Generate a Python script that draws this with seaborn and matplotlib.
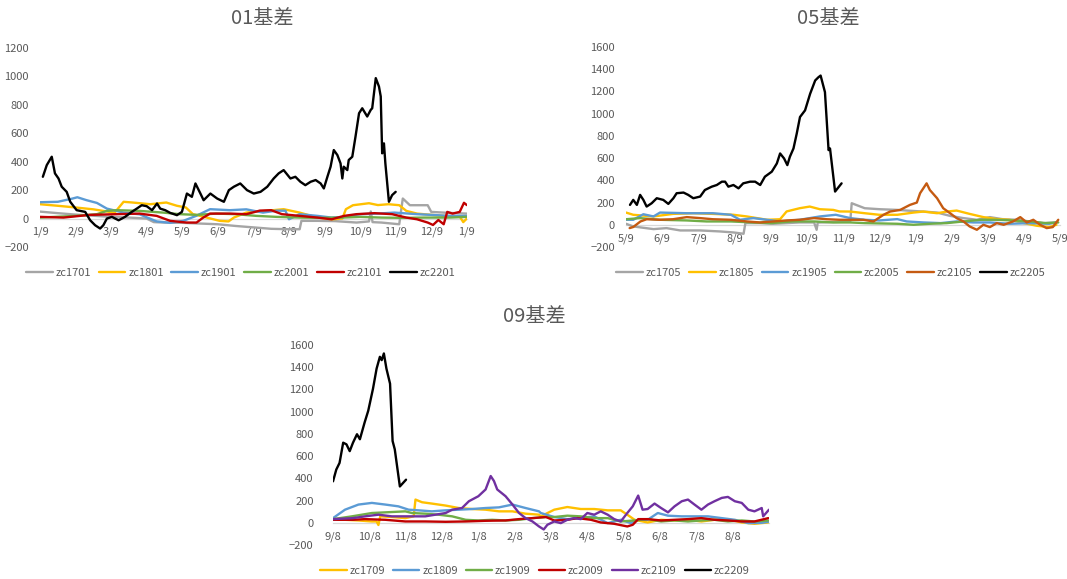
import numpy as np
import pandas as pd
import matplotlib.pyplot as plt
import seaborn as sns

sns.set_theme(style="white")
plt.rcParams['font.family'] = ['Noto Sans CJK SC', 'DejaVu Sans']
plt.rcParams['axes.unicode_minus'] = True

TEXT = '#595959'

# ---- 01基差 : (months after 1/9, basis) ----
zc1701 = [(0, 49), (0.5, 38), (1, 28), (1.5, 20), (2, 12), (2.5, 7), (3, 0), (3.2, -25), (3.5, -28),
          (4, -30), (4.5, -35), (5, -40), (5.5, -52), (6, -62), (6.5, -72), (7, -75), (7.3, -75),
          (7.35, -16), (7.8, -16), (8.3, -18), (8.9, -28), (9.25, -20), (9.3, 50), (9.35, -25),
          (9.6, -28), (10.1, -40), (10.2, 141), (10.4, 94), (10.9, 94), (11.0, 47), (11.5, 40), (12, 35)]
zc1801 = [(0, 101), (0.5, 90), (1, 78), (1.5, 65), (2, 45), (2.1, 42), (2.35, 118), (2.6, 113),
          (3.1, 101), (3.55, 113), (3.85, 90), (4.1, 78), (4.3, 31), (4.5, 19), (5.05, -16), (5.3, -20),
          (5.45, 7), (5.8, 42), (6.35, 54), (6.85, 66), (7.3, 42), (7.8, 7), (8.2, -5), (8.5, 0),
          (8.6, 66), (8.8, 94), (9.25, 108), (9.5, 95), (9.8, 101), (10.1, 94), (10.3, 54), (10.6, 35),
          (11.3, 20), (11.8, 15), (11.9, -25), (12, 0)]
zc1901 = [(0, 115), (0.5, 118), (0.9, 140), (1.05, 150), (1.3, 130), (1.6, 110), (1.88, 70), (2.35, 42),
          (2.8, 30), (3.28, -20), (3.66, -30), (4.03, -16), (4.4, 20), (4.78, 66), (5.34, 59), (5.8, 65),
          (6.27, 42), (6.65, 56), (6.9, 55), (7.0, -5), (7.3, 31), (7.8, 19), (8.2, 7), (8.55, 12),
          (9.0, 31), (9.5, 35), (9.96, 42), (10.2, 38), (10.6, 31), (11.0, 26), (11.5, 19), (12, 19)]
zc2001 = [(0, 7), (1, 19), (1.6, 31), (1.88, 54), (2.16, 59), (2.8, 54), (3.46, 42), (3.93, 31),
          (4.4, 26), (4.96, 35), (5.5, 31), (6.08, 19), (6.65, 12), (7.3, 7), (7.8, 5), (8.5, 7),
          (9.0, 12), (9.6, 7), (10.2, 5), (10.8, 7), (11.5, 7), (12, 12)]
zc2101 = [(0, 12), (0.66, 7), (1.4, 26), (2.16, 31), (2.8, 35), (3.28, 19), (3.66, -16), (4.12, -28),
          (4.4, -28), (4.59, 7), (4.78, 35), (5.34, 35), (5.8, 31), (6.18, 56), (6.5, 59), (6.8, 31),
          (7.3, 19), (7.8, 7), (8.2, -5), (8.55, 19), (8.9, 31), (9.4, 38), (9.9, 31), (10.3, 7),
          (10.6, -5), (10.9, -28), (11.05, -45), (11.2, -10), (11.35, -40), (11.45, 47), (11.6, 35),
          (11.8, 47), (11.92, 111), (12, 95)]
zc2201 = [(0.08, 294), (0.19, 376), (0.33, 435), (0.42, 318), (0.52, 282), (0.61, 224), (0.75, 188),
          (0.85, 118), (1.03, 59), (1.27, 47), (1.41, -12), (1.55, -47), (1.69, -70), (1.78, -47),
          (1.88, 0), (2.02, 12), (2.21, -12), (2.39, 12), (2.58, 47), (2.72, 70), (2.86, 94), (3.0, 87),
          (3.15, 59), (3.29, 106), (3.38, 70), (3.52, 59), (3.66, 40), (3.85, 24), (3.99, 47),
          (4.13, 176), (4.27, 153), (4.37, 247), (4.51, 176), (4.6, 129), (4.79, 176), (4.98, 141),
          (5.17, 118), (5.31, 200), (5.45, 224), (5.63, 247), (5.82, 200), (6.01, 176), (6.2, 188),
          (6.39, 224), (6.57, 282), (6.71, 318), (6.85, 341), (7.04, 282), (7.18, 294), (7.32, 259),
          (7.46, 235), (7.61, 259), (7.75, 271), (7.89, 247), (7.98, 212), (8.08, 294), (8.17, 365),
          (8.26, 482), (8.36, 447), (8.45, 388), (8.5, 282), (8.54, 365), (8.64, 341), (8.68, 412),
          (8.78, 435), (8.87, 576), (8.97, 741), (9.06, 776), (9.2, 718), (9.3, 765), (9.34, 776),
          (9.44, 988), (9.53, 929), (9.58, 859), (9.62, 459), (9.67, 529), (9.71, 388), (9.81, 118),
          (9.9, 165), (10.0, 188)]

# ---- 05基差 : (months after 5/9, basis) ----
zc1705 = [(0, 9), (0.2, -15), (0.76, -39), (1.12, -30), (1.5, -51), (2.05, -51), (2.6, -60), (2.97, -69),
          (3.25, -81), (3.3, 15), (3.7, 15), (4.07, 9), (4.44, 15), (4.8, 21), (5.2, 21), (5.27, -45),
          (5.3, 20), (5.8, 25), (6.2, 30), (6.24, 194), (6.6, 149), (7.02, 140), (7.5, 134), (7.76, 128),
          (8.22, 119), (8.6, 110), (8.96, 80), (9.33, 60), (9.7, 45), (10.06, 69), (10.4, 51), (10.8, 45),
          (11.17, 30), (11.54, 15), (11.9, 21)]
zc1805 = [(0, 110), (0.2, 90), (0.76, 75), (1.3, 98), (1.86, 104), (2.4, 98), (2.97, 90), (3.34, 75),
          (3.9, 45), (4.26, 50), (4.44, 120), (4.8, 149), (5.08, 164), (5.36, 140), (5.73, 134), (5.9, 120),
          (6.2, 119), (6.6, 104), (7.0, 90), (7.5, 90), (7.95, 110), (8.22, 119), (8.6, 104), (8.87, 119),
          (9.14, 128), (9.5, 98), (9.88, 69), (10.25, 51), (10.6, 45), (11.0, 15), (11.36, -9),
          (11.7, -21), (11.9, 0)]
zc1905 = [(0, 45), (0.2, 45), (0.48, 95), (0.76, 75), (0.94, 110), (1.68, 104), (2.4, 104), (2.9, 90),
          (3.15, 45), (3.52, 60), (3.9, 45), (4.26, 30), (4.8, 45), (5.36, 75), (5.8, 90), (6.2, 60),
          (6.6, 45), (7.0, 39), (7.5, 51), (7.76, 30), (8.22, 21), (8.7, 15), (9.14, 30), (9.6, 21),
          (10.06, 21), (10.6, 9), (11.17, 15), (11.7, 9), (11.9, 21)]
zc2005 = [(0, 50), (0.39, 60), (0.94, 45), (1.68, 39), (2.23, 30), (2.9, 30), (3.5, 21), (4.0, 15),
          (4.6, 30), (5.2, 30), (5.73, 21), (6.2, 21), (6.6, 15), (7.5, 9), (7.95, 0), (8.4, 9),
          (8.87, 15), (9.33, 30), (9.8, 45), (10.25, 45), (10.7, 39), (11.17, 30), (11.6, 15), (11.95, 21)]
zc2105 = [(0.1, -30), (0.2, -20), (0.4, 30), (0.57, 50), (0.94, 45), (1.3, 50), (1.68, 69), (2.05, 60),
          (2.4, 50), (2.9, 45), (3.34, 30), (3.7, 21), (4.07, 30), (4.44, 39), (4.8, 45), (5.2, 60),
          (5.55, 50), (5.9, 45), (6.2, 45), (6.56, 45), (6.84, 30), (7.12, 90), (7.3, 119), (7.58, 134),
          (7.85, 179), (8.04, 200), (8.13, 284), (8.31, 373), (8.4, 313), (8.6, 239), (8.77, 149),
          (8.96, 104), (9.14, 60), (9.33, 30), (9.5, -15), (9.7, -45), (9.88, 0), (10.06, -21),
          (10.25, 15), (10.44, 0), (10.7, 30), (10.9, 69), (11.08, 21), (11.26, 45), (11.45, 0),
          (11.63, -30), (11.8, -21), (11.95, 45)]
zc2205 = [(0.11, 179), (0.2, 224), (0.3, 179), (0.39, 269), (0.48, 224), (0.57, 164), (0.71, 194),
          (0.85, 239), (1.03, 224), (1.17, 188), (1.31, 239), (1.4, 284), (1.59, 290), (1.72, 269),
          (1.86, 239), (2.05, 254), (2.18, 313), (2.37, 343), (2.51, 358), (2.65, 388), (2.74, 388),
          (2.83, 343), (2.97, 358), (3.11, 328), (3.24, 373), (3.43, 388), (3.57, 388), (3.71, 358),
          (3.84, 433), (4.03, 478), (4.17, 552), (4.26, 642), (4.37, 597), (4.46, 537), (4.53, 612),
          (4.63, 687), (4.72, 821), (4.81, 970), (4.95, 1030), (5.09, 1179), (5.23, 1299), (5.32, 1328),
          (5.38, 1343), (5.5, 1194), (5.6, 672), (5.64, 687), (5.78, 299), (5.96, 373)]

# ---- 09基差 : (months after 9/8, basis) ----
zc1709 = [(0, 33), (0.33, 27), (0.7, 21), (1.07, 12), (1.2, 12), (1.25, -20), (1.3, 58), (1.62, 52),
          (1.99, 42), (2.22, 58), (2.27, 209), (2.45, 185), (2.72, 173), (3.1, 155), (3.46, 133),
          (3.83, 124), (4.2, 118), (4.57, 103), (4.94, 103), (5.3, 82), (5.67, 73), (5.72, 58),
          (6.09, 118), (6.45, 142), (6.82, 124), (7.19, 124), (7.56, 112), (7.92, 112), (8.1, 73),
          (8.3, 27), (8.66, 3), (9.03, 27), (9.4, 21), (9.77, 27), (10.14, 12), (10.5, 27), (10.87, 33),
          (11.25, 3), (11.6, -9), (11.98, 3)]
zc1809 = [(0, 42), (0.33, 118), (0.7, 164), (1.07, 179), (1.44, 164), (1.8, 148), (2.08, 118), (2.36, 112),
          (2.72, 103), (3.1, 112), (3.46, 118), (3.83, 124), (4.2, 133), (4.57, 139), (4.94, 164),
          (5.3, 133), (5.67, 103), (5.72, 88), (6.09, 52), (6.45, 33), (6.82, 42), (7.19, 58), (7.56, -3),
          (7.92, 27), (8.2, -3), (8.4, 27), (8.66, 27), (8.94, 88), (9.22, 64), (9.6, 58), (9.95, 58),
          (10.32, 58), (10.7, 42), (11.06, 27), (11.43, -3), (11.8, 0), (11.98, 9)]
zc1909 = [(0, 33), (0.52, 58), (1.07, 88), (1.44, 94), (1.99, 103), (2.17, 88), (2.54, 82), (2.9, 73),
          (3.28, 58), (3.65, 27), (4.0, 21), (4.38, 27), (4.75, 21), (5.12, 27), (5.49, 42), (5.86, 52),
          (6.09, 52), (6.45, 64), (6.82, 58), (7.19, 42), (7.56, 42), (7.92, 12), (8.3, 21), (8.66, 33),
          (9.03, 12), (9.4, 21), (9.77, 12), (10.14, 21), (10.5, 27), (10.87, 12), (11.25, 21),
          (11.6, 12), (11.98, 21)]
zc2009 = [(0, 27), (0.55, 27), (0.88, 33), (1.44, 27), (1.99, 12), (2.54, 12), (3.1, 9), (3.65, 12),
          (4.2, 18), (4.75, 21), (5.12, 33), (5.49, 42), (5.86, 52), (6.09, 21), (6.45, 27), (6.73, 42),
          (7.1, 27), (7.37, 3), (7.74, -9), (8.1, -33), (8.25, -18), (8.4, 33), (8.66, 33), (9.03, 21),
          (9.4, 27), (9.77, 33), (10.14, 42), (10.5, 27), (10.87, 21), (11.25, 12), (11.6, 12), (11.98, 42)]
zc2109 = [(0, 33), (0.55, 42), (0.88, 58), (1.25, 73), (1.62, 58), (2.17, 58), (2.54, 58), (2.82, 73),
          (3.1, 88), (3.28, 118), (3.55, 133), (3.74, 194), (4.0, 239), (4.2, 300), (4.34, 421),
          (4.43, 376), (4.52, 300), (4.75, 239), (4.94, 164), (5.12, 88), (5.3, 42), (5.49, 12),
          (5.67, -33), (5.8, -60), (5.9, -18), (6.09, 12), (6.27, -3), (6.45, 27), (6.64, 42), (6.82, 33),
          (7.0, 88), (7.19, 73), (7.37, 103), (7.56, 73), (7.74, 33), (7.92, 12), (8.1, 88), (8.25, 148),
          (8.4, 245), (8.52, 118), (8.66, 124), (8.85, 173), (9.03, 133), (9.22, 94), (9.4, 148),
          (9.6, 194), (9.77, 209), (9.95, 164), (10.14, 118), (10.32, 164), (10.5, 194), (10.7, 224),
          (10.87, 233), (11.06, 194), (11.25, 179), (11.43, 118), (11.6, 103), (11.8, 133), (11.84, 58),
          (12.0, 118)]
zc2209 = [(0, 373), (0.09, 479), (0.18, 539), (0.28, 721), (0.37, 706), (0.46, 645), (0.55, 721),
          (0.66, 797), (0.74, 752), (0.87, 903), (0.97, 1009), (1.1, 1206), (1.2, 1388), (1.29, 1494),
          (1.34, 1464), (1.4, 1524), (1.47, 1388), (1.57, 1252), (1.64, 736), (1.7, 661), (1.84, 327),
          (2.01, 388)]

labels_01 = ['1/9', '2/9', '3/9', '4/9', '5/9', '6/9', '7/9', '8/9', '9/9', '10/9', '11/9', '12/9', '1/9']
labels_05 = ['5/9', '6/9', '7/9', '8/9', '9/9', '10/9', '11/9', '12/9', '1/9', '2/9', '3/9', '4/9', '5/9']
labels_09 = ['9/8', '10/8', '11/8', '12/8', '1/8', '2/8', '3/8', '4/8', '5/8', '6/8', '7/8', '8/8']

names_01 = ['zc1701', 'zc1801', 'zc1901', 'zc2001', 'zc2101', 'zc2201']
names_05 = ['zc1705', 'zc1805', 'zc1905', 'zc2005', 'zc2105', 'zc2205']
names_09 = ['zc1709', 'zc1809', 'zc1909', 'zc2009', 'zc2109', 'zc2209']
colors_01 = ['#A5A5A5', '#FFC000', '#5B9BD5', '#70AD47', '#C00000', '#000000']
colors_05 = ['#A5A5A5', '#FFC000', '#5B9BD5', '#70AD47', '#C55A11', '#000000']
colors_09 = ['#FFC000', '#5B9BD5', '#70AD47', '#C00000', '#7030A0', '#000000']


def to_frame(series, names):
    parts = []
    for name, pts in zip(names, series):
        d = pd.DataFrame(pts, columns=['month', 'basis'])
        d['contract'] = name
        parts.append(d)
    return pd.concat(parts, ignore_index=True)


def draw(ax, df, names, colors, ymax, xlabels, legend_x, ypad):
    sns.lineplot(data=df, x='month', y='basis', hue='contract', hue_order=names,
                 palette=colors, estimator=None, sort=False, linewidth=1.7, ax=ax)
    ax.set_xlim(0, 12)
    ax.set_ylim(-200, ymax)
    ax.set_yticks(range(-200, ymax + 1, 200))
    ax.set_xticks(range(len(xlabels)))
    ax.set_xticklabels(xlabels)
    ax.set_xlabel('')
    ax.set_ylabel('')
    for s in ['top', 'right', 'left']:
        ax.spines[s].set_visible(False)
    ax.spines['bottom'].set_position(('data', 0))
    ax.spines['bottom'].set_color('#D9D9D9')
    ax.spines['bottom'].set_linewidth(0.9)
    ax.spines['bottom'].set_zorder(1)
    ax.tick_params(axis='both', length=0, labelsize=8, colors=TEXT)
    ax.tick_params(axis='x', pad=6)
    ax.tick_params(axis='y', pad=ypad)
    ax.legend(loc='center', bbox_to_anchor=(legend_x, -0.13), ncol=6, frameon=False,
              fontsize=8, handlelength=2.4, handletextpad=0.25, columnspacing=0.7,
              labelcolor=TEXT)


fig = plt.figure(figsize=(10.67, 5.79), dpi=100)

ax1 = fig.add_axes([0.0375, 0.5734, 0.400, 0.3437])
draw(ax1, to_frame([zc1701, zc1801, zc1901, zc2001, zc2101, zc2201], names_01),
     names_01, colors_01, 1200, labels_01, 0.47, 8)

ax2 = fig.add_axes([0.5867, 0.5734, 0.4068, 0.3454])
draw(ax2, to_frame([zc1705, zc1805, zc1905, zc2005, zc2105, zc2205], names_05),
     names_05, colors_05, 1600, labels_05, 0.472, 8)

ax3 = fig.add_axes([0.3121, 0.0587, 0.4086, 0.3454])
draw(ax3, to_frame([zc1709, zc1809, zc1909, zc2009, zc2109, zc2209], names_09),
     names_09, colors_09, 1600, labels_09, 0.463, 14)

fig.text(0.2456, 0.968, '01基差', ha='center', va='center', fontsize=14.5, color=TEXT)
fig.text(0.776, 0.968, '05基差', ha='center', va='center', fontsize=14.5, color=TEXT)
fig.text(0.5005, 0.454, '09基差', ha='center', va='center', fontsize=14.5, color=TEXT)

fig.savefig('out.png', dpi=100)
